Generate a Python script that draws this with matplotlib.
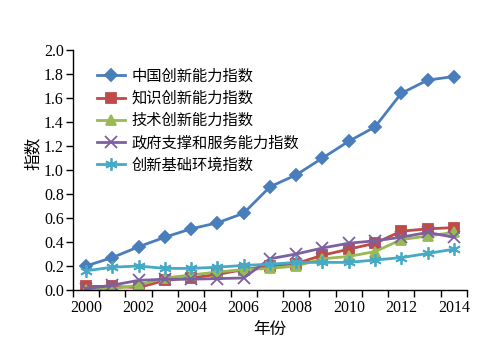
import numpy as np
import matplotlib
matplotlib.use('Agg')
import matplotlib.pyplot as plt

plt.rcParams['font.family'] = ['Liberation Serif', 'Noto Sans CJK SC']

years = list(range(2000, 2015))
china = [0.20, 0.27, 0.36, 0.44, 0.51, 0.56, 0.64, 0.86, 0.96, 1.10, 1.24, 1.36, 1.64, 1.75, 1.78]
knowledge = [0.03, 0.03, 0.02, 0.08, 0.10, 0.13, 0.17, 0.20, 0.22, 0.29, 0.34, 0.39, 0.49, 0.51, 0.52]
tech = [0.00, 0.01, 0.04, 0.10, 0.125, 0.15, 0.17, 0.18, 0.20, 0.26, 0.28, 0.32, 0.42, 0.45, 0.48]
gov = [0.01, 0.04, 0.08, 0.09, 0.09, 0.095, 0.10, 0.26, 0.30, 0.35, 0.39, 0.41, 0.44, 0.48, 0.44]
infra = [0.16, 0.19, 0.20, 0.18, 0.18, 0.19, 0.205, 0.215, 0.23, 0.23, 0.23, 0.25, 0.27, 0.305, 0.34]

names = ['中国创新能力指数', '知识创新能力指数', '技术创新能力指数',
         '政府支撑和服务能力指数', '创新基础环境指数']
series = [china, knowledge, tech, gov, infra]
colors = ['#4a7ebb', '#be4b48', '#98b954', '#7d60a0', '#46aac5']
markers = ['D', 's', '^', 'x', (6, 2, 0)]
msizes = [6, 7, 7, 8, 9]

fig = plt.figure(figsize=(4.89, 3.41), dpi=100)
ax = fig.add_axes([0.149, 0.1496, 0.806, 0.7034])

for vals, name, c, m, ms in zip(series, names, colors, markers, msizes):
    ax.plot(years, vals, color=c, lw=2, marker=m, markersize=ms,
            markeredgecolor=c, markeredgewidth=1.3, label=name)

ax.set_xlim(1999.5, 2014.5)
ax.set_ylim(0, 2.0)
ax.set_yticks(np.arange(0, 2.01, 0.2))
ax.set_yticklabels(['%.1f' % v for v in np.arange(0, 2.01, 0.2)])
ax.set_xticks(range(2000, 2015, 2))
ax.set_xticks(np.arange(1999.5, 2014.6, 1), minor=True)
ax.tick_params(axis='x', which='major', length=0, labelsize=11.5, pad=7)
ax.tick_params(axis='x', which='minor', length=5, width=1, direction='out')
ax.tick_params(axis='y', length=5, width=1, direction='out', labelsize=11.5, pad=1.5)

ax.spines['top'].set_visible(False)
ax.spines['right'].set_visible(False)
ax.spines['left'].set_linewidth(1)
ax.spines['bottom'].set_linewidth(1)

ax.set_xlabel('年份', fontsize=12)
ax.set_ylabel('指数', fontsize=12)
ax.xaxis.set_label_coords(0.50, -0.135)
ax.yaxis.set_label_coords(-0.08, 0.57)

ax.legend(loc='upper left', bbox_to_anchor=(0.035, 0.965), frameon=False,
          fontsize=11, handlelength=1.8, labelspacing=0.5, borderpad=0.2,
          handletextpad=0.45)

fig.savefig('out.png', dpi=100)
